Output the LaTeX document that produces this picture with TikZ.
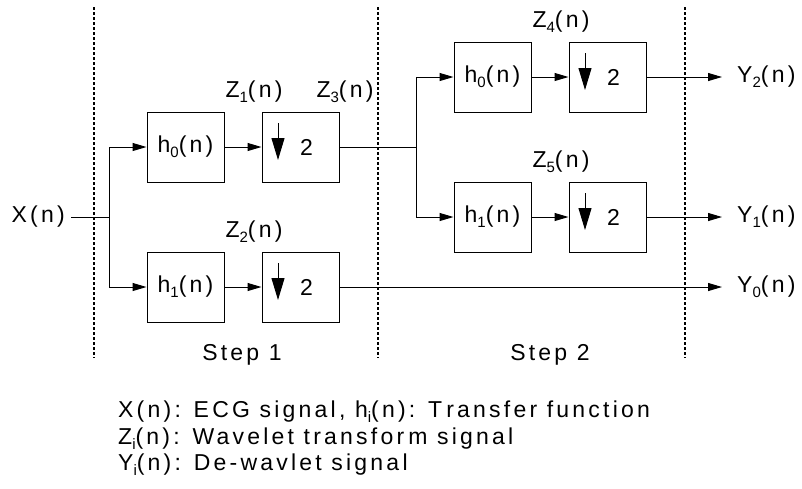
\documentclass[tikz,border=0pt]{standalone}
\usepackage{fontspec}
\setmainfont{Liberation Sans}[LetterSpace=14]
\usetikzlibrary{arrows.meta}
\newcommand\sbs[1]{\raisebox{-0.18em}{\fontsize{15}{15}\selectfont #1}}
\newcommand\gp{\kern0.18em}
\begin{document}
\begin{tikzpicture}[x=1pt,y=-1pt,
  every node/.style={font=\fontsize{23}{27}\selectfont},
  blk/.style={draw,line width=1pt,minimum width=77pt,minimum height=70pt,inner sep=0pt},
  lbl/.style={inner sep=0pt},
  wire/.style={line width=1pt},
  arr/.style={wire,-{Triangle[length=14pt,width=8pt]}},
  sep/.style={line width=1.2pt,dash pattern=on 3pt off 2pt}]
\useasboundingbox (0,0) rectangle (802,488);
% separators
\draw[sep] (94,7) -- (94,358);
\draw[sep] (378,7) -- (378,358);
\draw[sep] (685,7) -- (685,358);
% step 1 blocks
\node[blk] (A1) at (185.5,147) {h\sbs{0}(n)};
\node[blk] (D1) at (300.5,147) {};
\node[blk] (B1) at (185.5,287) {h\sbs{1}(n)};
\node[blk] (E1) at (300.5,287) {};
% step 2 blocks
\node[blk] (A2) at (492.5,77) {h\sbs{0}(n)};
\node[blk] (D2) at (607.5,77) {};
\node[blk] (B2) at (492.5,217) {h\sbs{1}(n)};
\node[blk] (E2) at (607.5,217) {};
% down-sampler contents
\foreach \b in {D1,E1,D2,E2}{
  \node[lbl] at ([xshift=6pt]\b.center) {2};
  \draw[line width=1pt,-{Triangle[length=22pt,width=13pt]}] ([xshift=-22.5pt,yshift=24pt]\b.center) -- ([xshift=-22.5pt,yshift=-13pt]\b.center);
}
% labels
\node[lbl,anchor=east] (X) at (65,217) {X(n)};
\node[lbl] (Z1) at (254,92) {Z\sbs{1}(n)};
\node[lbl] (Z3) at (345,92) {Z\sbs{3}(n)};
\node[lbl] (Z2) at (254,232) {Z\sbs{2}(n)};
\node[lbl] (Z4) at (561,22) {Z\sbs{4}(n)};
\node[lbl] (Z5) at (561,162) {Z\sbs{5}(n)};
\node[lbl,anchor=west] (Y2) at (737,77) {Y\sbs{2}(n)};
\node[lbl,anchor=west] (Y1) at (737,217) {Y\sbs{1}(n)};
\node[lbl,anchor=west] (Y0) at (737,287) {Y\sbs{0}(n)};
\node[lbl] (S1) at (242,355) {Step 1};
\node[lbl] (S2) at (550,355) {Step 2};
% connectors
\coordinate (J1) at (109,217);
\coordinate (J2) at (416,147);
\draw[wire] ([xshift=6pt]X.east) -- (J1);
\draw[arr] (J1) |- (A1);
\draw[arr] (J1) |- (B1);
\draw[arr] (A1) -- (D1);
\draw[arr] (B1) -- (E1);
\draw[wire] (D1.east) -- (J2);
\draw[arr] (J2) |- (A2);
\draw[arr] (J2) |- (B2);
\draw[arr] (A2) -- (D2);
\draw[arr] (B2) -- (E2);
\draw[arr,shorten >=15pt] (D2.east) -- (D2.east -| Y2.west);
\draw[arr,shorten >=15pt] (E2.east) -- (E2.east -| Y1.west);
\draw[arr,shorten >=15pt] (E1.east) -- (E1.east -| Y0.west);
% legend
\node[lbl,anchor=west] (L1) at (118,412) {X(n): ECG signal, h\sbs{i}(n): T\gp ransfer function};
\node[lbl,anchor=west] (L2) at (118,439) {Z\sbs{i}(n): Wavelet transfor\gp m signal};
\node[lbl,anchor=west] (L3) at (118,465) {Y\sbs{i}(n): De-wavlet signal};
\end{tikzpicture}
\end{document}
